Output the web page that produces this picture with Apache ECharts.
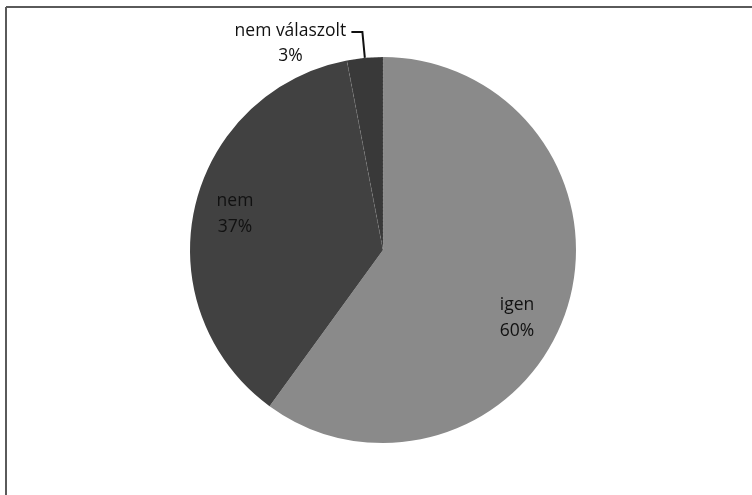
<!DOCTYPE html>
<html>
<head>
<meta charset="utf-8">
<script src="https://cdn.jsdelivr.net/npm/echarts@6/dist/echarts.min.js"></script>
<style>
  html, body { margin: 0; padding: 0; background: #fff; }
  #chart { width: 752px; height: 495px; }
</style>
</head>
<body>
<div id="chart"></div>
<script>
// Adatok
var kategoriak = ['igen', 'nem', 'nem válaszolt'];
var ertekek = [60, 37, 3];
var szinek = ['#8a8a8a', '#414141', '#393939'];

var chart = echarts.init(document.getElementById('chart'));

var adatok = kategoriak.map(function (nev, i) {
    var item = {
        name: nev,
        value: ertekek[i],
        itemStyle: { color: szinek[i] }
    };
    if (i === 2) {
        item.label = {
            position: 'outside',
            formatter: '{a|{b}}\n{a|{d}%}',
            padding: [24, 0, 0, 0],
            distanceToLabelLine: 2,
            rich: {
                a: { width: 118, align: 'center', fontSize: 17.5, lineHeight: 25, color: '#111', fontFamily: 'Open Sans' }
            }
        };
        item.labelLine = { show: true, length: 26, length2: 11, lineStyle: { color: '#111', width: 2 } };
        item.itemStyle.borderColor = 'rgba(255,255,255,0.2)';
        item.itemStyle.borderWidth = 0.6;
        item.itemStyle.borderType = 'dashed';
    }
    return item;
});

// pozíciók a belső feliratokhoz
var belsoPoz = { 0: [517, 318], 1: [235, 214] };

var option = {
    backgroundColor: '#fff',
    animation: false,
    graphic: [
        { type: 'line', shape: { x1: 6, y1: 7, x2: 752, y2: 7 }, style: { stroke: '#5a5a5a', lineWidth: 2 } },
        { type: 'line', shape: { x1: 6, y1: 7, x2: 6, y2: 495 }, style: { stroke: '#5a5a5a', lineWidth: 2 } }
    ],
    series: [{
        type: 'pie',
        center: [383, 250],
        radius: 193,
        startAngle: 90,
        clockwise: true,
        label: {
            show: true,
            position: 'inside',
            formatter: '{b}\n{d}%',
            fontFamily: 'Open Sans',
            fontSize: 17.5,
            lineHeight: 26,
            color: '#111',
            align: 'left'
        },
        labelLine: { show: false },
        labelLayout: function (p) {
            var pos = belsoPoz[p.dataIndex];
            if (pos) {
                return { x: pos[0], y: pos[1], align: 'center', verticalAlign: 'middle' };
            }
        },
        emphasis: { disabled: true },
        data: adatok
    }]
};

chart.setOption(option);
</script>
</body>
</html>
